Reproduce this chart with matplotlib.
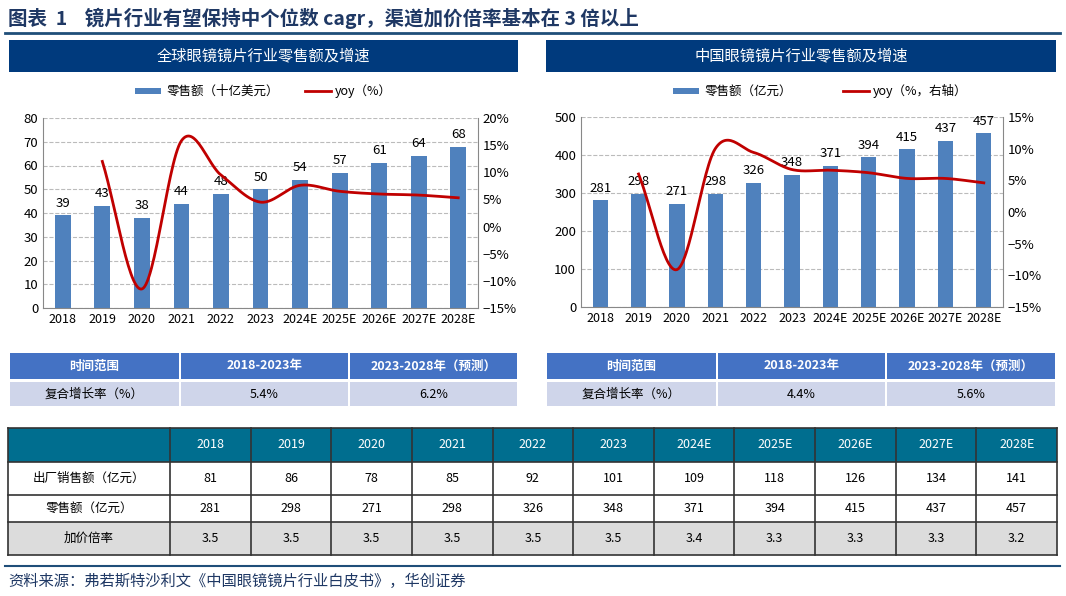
import numpy as np
import matplotlib
matplotlib.use("Agg")
import matplotlib.pyplot as plt
from matplotlib.patches import Rectangle
from matplotlib.lines import Line2D

plt.rcParams['font.family'] = ['Noto Sans CJK SC', 'DejaVu Sans']

years = ['2018','2019','2020','2021','2022','2023','2024E','2025E','2026E','2027E','2028E']
global_sales = [39, 43, 38, 44, 48, 50, 54, 57, 61, 64, 68]
global_yoy = [None, 12.0, -11.5, 15.8, 9.5, 4.5, 7.6, 6.5, 6.0, 5.8, 5.3]
china_sales = [281, 298, 271, 298, 326, 348, 371, 394, 415, 437, 457]
china_yoy = [None, 6.0, -9.1, 10.0, 9.4, 6.7, 6.6, 6.2, 5.3, 5.3, 4.6]
factory = ['81','86','78','85','92','101','109','118','126','134','141']
retail = ['281','298','271','298','326','348','371','394','415','437','457']
markup = ['3.5','3.5','3.5','3.5','3.5','3.5','3.4','3.3','3.3','3.3','3.2']
cagr_left = ['5.4%', '6.2%']
cagr_right = ['4.4%', '5.6%']

W, H = 1066, 596
fig = plt.figure(figsize=(W/100, H/100), dpi=100)

def fx(x): return x / W
def fy(y): return 1 - y / H

def rect(x0, y0, x1, y1, color, ec='none', lw=0):
    fig.add_artist(Rectangle((fx(x0), fy(y1)), fx(x1-x0), (y1-y0)/H, facecolor=color,
                             edgecolor=ec, linewidth=lw, transform=fig.transFigure))

def text(x, y, s, **kw):
    fig.text(fx(x), fy(y), s, **kw)

NAVY = '#1F3864'
BAR = '#4F81BD'
RED = '#C00000'

text(8, 18, '图表  1    镜片行业有望保持中个位数 cagr，渠道加价倍率基本在 3 倍以上',
     fontsize=14, fontweight='bold', color=NAVY, va='center', family='Noto Sans CJK SC')
fig.add_artist(Line2D([fx(5), fx(1060)], [fy(33), fy(33)], color='#1F4E79', lw=2))

def smooth(xs, ys, n=30):
    xs = np.asarray(xs, float); ys = np.asarray(ys, float)
    px = np.concatenate([[2*xs[0]-xs[1]], xs, [2*xs[-1]-xs[-2]]])
    py = np.concatenate([[2*ys[0]-ys[1]], ys, [2*ys[-1]-ys[-2]]])
    ox, oy = [], []
    for i in range(1, len(px)-2):
        t = np.linspace(0, 1, n)
        for arr, out in ((px, ox), (py, oy)):
            p0, p1, p2, p3 = arr[i-1], arr[i], arr[i+1], arr[i+2]
            out.extend(0.5*((2*p1) + (-p0+p2)*t + (2*p0-5*p1+4*p2-p3)*t**2 + (-p0+3*p1-3*p2+p3)*t**3))
    return np.array(ox), np.array(oy)

def panel(x0, x1, title, ax_box, sales, yoy, ymax, ystep, y2min, y2max, legend_label, legend2, cagr):
    rect(x0, 40, x1, 72, '#003A7D')
    text((x0+x1)/2, 56, title, color='white', fontsize=11, ha='center', va='center')
    ax = fig.add_axes([fx(ax_box[0]), fy(ax_box[3]), fx(ax_box[2]-ax_box[0]), (ax_box[3]-ax_box[1])/H])
    x = np.arange(len(years))
    ax.bar(x, sales, width=0.4, color=BAR)
    for xi, v in zip(x, sales):
        ax.text(xi, v + ymax*0.03, str(v), ha='center', va='bottom', fontsize=9.5)
    ax.set_ylim(0, ymax)
    ax.set_yticks(np.arange(0, ymax+1, ystep))
    ax.set_xlim(-0.5, len(years)-0.5)
    ax.set_xticks(x)
    ax.set_xticklabels(years, fontsize=9)
    ax.tick_params(axis='y', labelsize=9.5, length=0)
    ax.tick_params(axis='x', length=0)
    ax.grid(axis='y', ls='--', color='#BBBBBB', lw=0.8)
    ax.set_axisbelow(True)
    for s in ['top', 'right']:
        ax.spines[s].set_visible(False)
    ax.spines['left'].set_color('#888888'); ax.spines['bottom'].set_color('#888888')
    ax2 = ax.twinx()
    xs = [i for i, v in enumerate(yoy) if v is not None]
    ys = [v for v in yoy if v is not None]
    sx, sy = smooth(xs, ys)
    ax2.plot(sx, sy, color=RED, lw=2)
    ax2.set_ylim(y2min, y2max)
    ax2.set_yticks(np.arange(y2min, y2max+1, 5))
    ax2.set_yticklabels([f'{int(t)}%'.replace('-', '−') for t in np.arange(y2min, y2max+1, 5)], fontsize=9.5)
    ax2.tick_params(axis='y', length=0)
    for s in ['top', 'left', 'bottom']:
        ax2.spines[s].set_visible(False)
    ax2.spines['right'].set_color('#888888')
    # legend
    lx = ax_box[0] + 92
    rect(lx, 88, lx+26, 94, BAR)
    text(lx+32, 91, legend_label, fontsize=9, va='center')
    l2 = lx + 170
    fig.add_artist(Line2D([fx(l2), fx(l2+26)], [fy(91), fy(91)], color=RED, lw=2))
    text(l2+30, 91, legend2, fontsize=9, va='center')
    # small table
    cols = [x0, x0+171, x0+340, x1]
    rect(x0, 353, x1, 380, 'white')
    heads = ['时间范围', '2018-2023年', '2023-2028年（预测）']
    vals = ['复合增长率（%）'] + cagr
    for i in range(3):
        rect(cols[i]+1, 353, cols[i+1]-1, 379, '#4472C4')
        text((cols[i]+cols[i+1])/2, 366, heads[i], color='white', fontsize=9, fontweight='bold', ha='center', va='center')
        rect(cols[i]+1, 382, cols[i+1]-1, 406, '#CFD5EA')
        text((cols[i]+cols[i+1])/2, 394, vals[i], fontsize=9, ha='center', va='center')

panel(9, 518, '全球眼镜镜片行业零售额及增速', (43, 118, 478, 308), global_sales, global_yoy,
      80, 10, -15, 20, '零售额（十亿美元）', 'yoy（%）', cagr_left)
panel(546, 1056, '中国眼镜镜片行业零售额及增速', (581, 117, 1003, 307), china_sales, china_yoy,
      500, 100, -15, 15, '零售额（亿元）', 'yoy（%，右轴）', cagr_right)

# big table
tx0, tx1 = 8, 1057
c0 = 170
cw = (tx1 - c0) / len(years)
rows = [(428, 462, '#006E8F'), (462, 495, 'white'), (495, 522, 'white'), (522, 555, '#DCDCDC')]
for (a, b, c) in rows:
    rect(tx0, a, tx1, b, c)
labels = ['', '出厂销售额（亿元）', '零售额（亿元）', '加价倍率']
data = [years, factory, retail, markup]
for r, (a, b, c) in enumerate(rows):
    ym = (a+b)/2
    text((tx0+c0)/2, ym, labels[r], fontsize=9, ha='center', va='center')
    for j, v in enumerate(data[r]):
        text(c0 + cw*(j+0.5), ym, v, fontsize=9, ha='center', va='center',
             color='white' if r == 0 else 'black')
# grid lines
for yv in [428, 462, 495, 522, 555]:
    fig.add_artist(Line2D([fx(tx0), fx(tx1)], [fy(yv), fy(yv)], color='#333333', lw=1.2))
for xv in [tx0, c0] + [c0 + cw*(j+1) for j in range(len(years))]:
    fig.add_artist(Line2D([fx(xv), fx(xv)], [fy(428), fy(555)], color='#333333', lw=1.2))

fig.add_artist(Line2D([fx(5), fx(1060)], [fy(566), fy(566)], color='#1F4E79', lw=1.5))
text(8, 581, '资料来源：弗若斯特沙利文《中国眼镜镜片行业白皮书》，华创证券', fontsize=11,
     color=NAVY, style='italic', va='center')

fig.savefig('out.png', dpi=100)
